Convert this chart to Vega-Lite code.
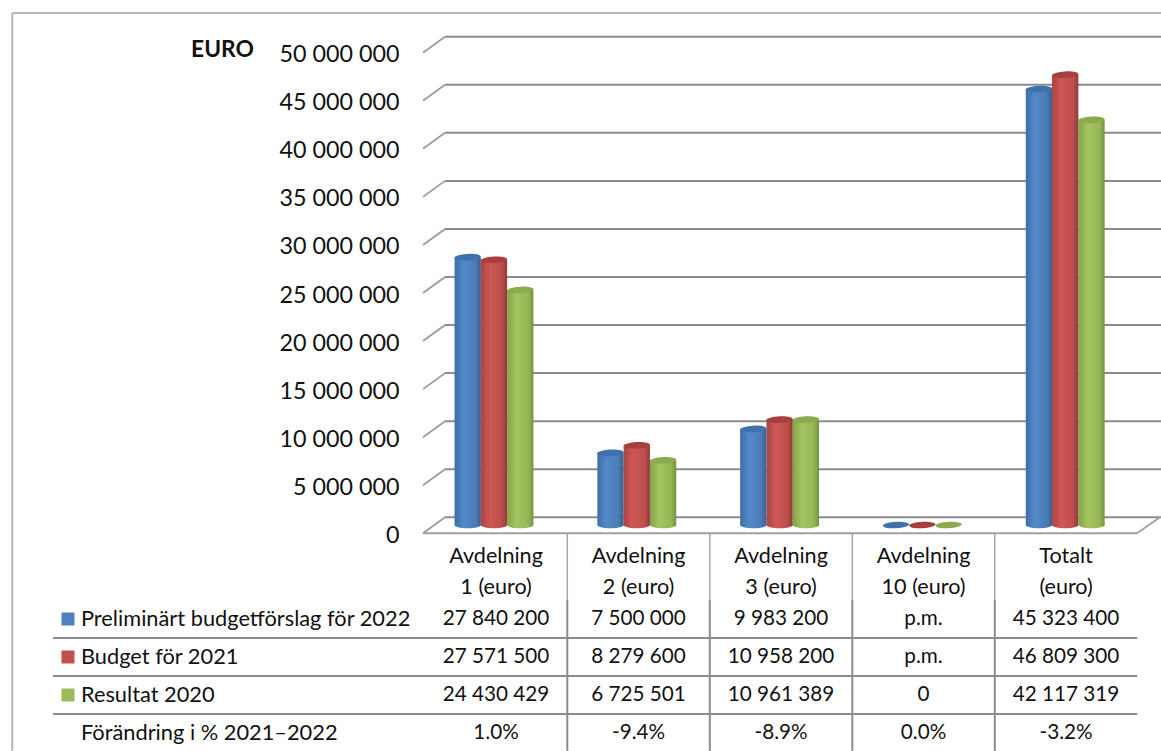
{
"$schema":"https://vega.github.io/schema/vega-lite/v6.json",
"width":1161,"height":751,"autosize":"none","padding":0,"background":"white",
"config":{"font":"Lato","view":{"stroke":null},"text":{"font":"Lato","color":"#111111"}},
"datasets":{
"grid":[{"tick":0},{"tick":5000000},{"tick":10000000},{"tick":15000000},{"tick":20000000},{"tick":25000000},{"tick":30000000},{"tick":35000000},{"tick":40000000},{"tick":45000000},{"tick":50000000}],
"bars":[
{"category":"Avdelning 1","series":"Preliminärt budgetförslag för 2022","value":27840200},
{"category":"Avdelning 1","series":"Budget för 2021","value":27571500},
{"category":"Avdelning 1","series":"Resultat 2020","value":24430429},
{"category":"Avdelning 2","series":"Preliminärt budgetförslag för 2022","value":7500000},
{"category":"Avdelning 2","series":"Budget för 2021","value":8279600},
{"category":"Avdelning 2","series":"Resultat 2020","value":6725501},
{"category":"Avdelning 3","series":"Preliminärt budgetförslag för 2022","value":9983200},
{"category":"Avdelning 3","series":"Budget för 2021","value":10958200},
{"category":"Avdelning 3","series":"Resultat 2020","value":10961389},
{"category":"Avdelning 10","series":"Preliminärt budgetförslag för 2022","value":0},
{"category":"Avdelning 10","series":"Budget för 2021","value":0},
{"category":"Avdelning 10","series":"Resultat 2020","value":0},
{"category":"Totalt","series":"Preliminärt budgetförslag för 2022","value":45323400},
{"category":"Totalt","series":"Budget för 2021","value":46809300},
{"category":"Totalt","series":"Resultat 2020","value":42117319}
],
"headers":[
{"column":0.5,"label":["Avdelning","1 (euro)"]},
{"column":1.5,"label":["Avdelning","2 (euro)"]},
{"column":2.5,"label":["Avdelning","3 (euro)"]},
{"column":3.5,"label":["Avdelning","10 (euro)"]},
{"column":4.5,"label":["Totalt","(euro)"]}
],
"rowLabels":[
{"row":1,"label":"Preliminärt budgetförslag för 2022","series":"Preliminärt budgetförslag för 2022"},
{"row":2,"label":"Budget för 2021","series":"Budget för 2021"},
{"row":3,"label":"Resultat 2020","series":"Resultat 2020"},
{"row":4,"label":"Förändring i % 2021–2022"}
],
"cells":[
{"row":1,"column":0.5,"label":"27 840 200"},{"row":1,"column":1.5,"label":"7 500 000"},{"row":1,"column":2.5,"label":"9 983 200"},{"row":1,"column":3.5,"label":"p.m."},{"row":1,"column":4.5,"label":"45 323 400"},
{"row":2,"column":0.5,"label":"27 571 500"},{"row":2,"column":1.5,"label":"8 279 600"},{"row":2,"column":2.5,"label":"10 958 200"},{"row":2,"column":3.5,"label":"p.m."},{"row":2,"column":4.5,"label":"46 809 300"},
{"row":3,"column":0.5,"label":"24 430 429"},{"row":3,"column":1.5,"label":"6 725 501"},{"row":3,"column":2.5,"label":"10 961 389"},{"row":3,"column":3.5,"label":"0"},{"row":3,"column":4.5,"label":"42 117 319"},
{"row":4,"column":0.5,"label":"1.0%"},{"row":4,"column":1.5,"label":"-9.4%"},{"row":4,"column":2.5,"label":"-8.9%"},{"row":4,"column":3.5,"label":"0.0%"},{"row":4,"column":4.5,"label":"-3.2%"}
],
"rowLines":[{"line":1.5},{"line":2.5},{"line":3.5}],
"colLines":[{"edge":1},{"edge":2},{"edge":3},{"edge":4}]
},
"layer":[
{"data":{"name":"grid"},
 "mark":{"type":"rule","stroke":"#8c8c8c","strokeWidth":2,"xOffset":22,"x2Offset":25,"yOffset":-16},
 "encoding":{
   "x":{"datum":0,"type":"quantitative","axis":null,"scale":{"domain":[0,5],"range":[423,1137]}},
   "x2":{"datum":5},
   "y":{"field":"tick","type":"quantitative","scale":{"domain":[0,50000000],"range":[533.3,52.7],"nice":false},
    "axis":{"orient":"left","offset":-399,"domain":false,"ticks":false,"grid":false,"labelPadding":0,"labelFontSize":23.3,"labelColor":"#111111","labelFont":"Lato","labelBaseline":"middle","labelOffset":2,"values":[0,5000000,10000000,15000000,20000000,25000000,30000000,35000000,40000000,45000000,50000000],"labelExpr":"replace(format(datum.value,','),/,/g,' ')","title":"EURO","titleAngle":0,"titleFont":"Lato","titleFontWeight":"bold","titleFontSize":22.8,"titleColor":"#111111","titleAlign":"center","titleBaseline":"middle","titleX":-177,"titleY":49,"labelOverlap":false}}
 }},
{"data":{"name":"grid"},
 "mark":{"type":"rule","stroke":"#9a9a9a","strokeWidth":1.8,"x2Offset":22,"y2Offset":-16},
 "encoding":{
   "x":{"datum":0,"type":"quantitative","axis":null,"scale":{"domain":[0,5],"range":[423,1137]}},
   "x2":{"datum":0},
   "y":{"field":"tick","type":"quantitative","axis":null,"scale":{"domain":[0,50000000],"range":[533.3,52.7],"nice":false}},
   "y2":{"field":"tick"}
 }},
{"data":{"name":"grid"},"transform":[{"filter":"datum.tick === 0"}],
 "mark":{"type":"rule","stroke":"#a0a0a0","strokeWidth":2},
 "encoding":{
   "x":{"datum":0,"type":"quantitative","axis":null,"scale":{"domain":[0,5],"range":[423,1137]}},
   "x2":{"datum":5},
   "y":{"field":"tick","type":"quantitative","axis":null,"scale":{"domain":[0,50000000],"range":[533.3,52.7],"nice":false}}
 }},
{"data":{"name":"grid"},"transform":[{"filter":"datum.tick === 0"}],
 "mark":{"type":"rule","stroke":"#a0a0a0","strokeWidth":1.8,"x2Offset":23,"y2Offset":-16},
 "encoding":{
   "x":{"datum":5,"type":"quantitative","axis":null,"scale":{"domain":[0,5],"range":[423,1137]}},
   "x2":{"datum":5},
   "y":{"field":"tick","type":"quantitative","axis":null,"scale":{"domain":[0,50000000],"range":[533.3,52.7],"nice":false}},
   "y2":{"field":"tick"}
 }},
{"data":{"name":"bars"},
 "encoding":{
  "x":{"field":"category","type":"nominal","axis":null,"sort":null,"scale":{"type":"band","domain":["Avdelning 1","Avdelning 2","Avdelning 3","Avdelning 10","Totalt"],"range":[422.6,1136.6],"paddingInner":0.4475,"paddingOuter":0.2237}},
  "xOffset":{"field":"series","type":"nominal","sort":null,"scale":{"domain":["Preliminärt budgetförslag för 2022","Budget för 2021","Resultat 2020"],"paddingInner":0,"paddingOuter":0}},
  "y":{"field":"value","type":"quantitative","axis":null,"scale":{"domain":[0,50000000],"range":[525,44],"nice":false}}
 },
 "layer":[
 {"transform":[{"filter":"datum.series === 'Preliminärt budgetförslag för 2022' && datum.value > 0"}],
  "mark":{"type":"bar","color":{"gradient":"linear","x1":0,"x2":1,"y1":0,"y2":0,"stops":[{"offset":0,"color":"#3f6ea8"},{"offset":0.35,"color":"#5389c9"},{"offset":0.8,"color":"#4a7bb5"},{"offset":1,"color":"#365f91"}]}}},
 {"transform":[{"filter":"datum.series === 'Budget för 2021' && datum.value > 0"}],
  "mark":{"type":"bar","color":{"gradient":"linear","x1":0,"x2":1,"y1":0,"y2":0,"stops":[{"offset":0,"color":"#a84441"},{"offset":0.35,"color":"#cf5855"},{"offset":0.8,"color":"#bc4f4c"},{"offset":1,"color":"#8f3a38"}]}}},
 {"transform":[{"filter":"datum.series === 'Resultat 2020' && datum.value > 0"}],
  "mark":{"type":"bar","color":{"gradient":"linear","x1":0,"x2":1,"y1":0,"y2":0,"stops":[{"offset":0,"color":"#85a24a"},{"offset":0.35,"color":"#a4c560"},{"offset":0.8,"color":"#97b756"},{"offset":1,"color":"#76923c"}]}}},
 {"transform":[{"filter":"datum.series === 'Preliminärt budgetförslag för 2022' && datum.value > 0"}],
  "mark":{"type":"point","filled":true,"opacity":1,"size":692,"shape":"M-1,0 A1,0.25 0 1 0 1,0 A1,0.25 0 1 0 -1,0 Z","color":{"gradient":"linear","x1":0,"x2":1,"y1":0,"y2":0,"stops":[{"offset":0,"color":"#3f6ea8"},{"offset":0.35,"color":"#5389c9"},{"offset":0.8,"color":"#4a7bb5"},{"offset":1,"color":"#365f91"}]}},
  "encoding":{"y":{"datum":0,"type":"quantitative","axis":null,"scale":{"domain":[0,50000000],"range":[525,44],"nice":false}}}},
 {"transform":[{"filter":"datum.series === 'Budget för 2021' && datum.value > 0"}],
  "mark":{"type":"point","filled":true,"opacity":1,"size":692,"shape":"M-1,0 A1,0.25 0 1 0 1,0 A1,0.25 0 1 0 -1,0 Z","color":{"gradient":"linear","x1":0,"x2":1,"y1":0,"y2":0,"stops":[{"offset":0,"color":"#a84441"},{"offset":0.35,"color":"#cf5855"},{"offset":0.8,"color":"#bc4f4c"},{"offset":1,"color":"#8f3a38"}]}},
  "encoding":{"y":{"datum":0,"type":"quantitative","axis":null,"scale":{"domain":[0,50000000],"range":[525,44],"nice":false}}}},
 {"transform":[{"filter":"datum.series === 'Resultat 2020' && datum.value > 0"}],
  "mark":{"type":"point","filled":true,"opacity":1,"size":692,"shape":"M-1,0 A1,0.25 0 1 0 1,0 A1,0.25 0 1 0 -1,0 Z","color":{"gradient":"linear","x1":0,"x2":1,"y1":0,"y2":0,"stops":[{"offset":0,"color":"#85a24a"},{"offset":0.35,"color":"#a4c560"},{"offset":0.8,"color":"#97b756"},{"offset":1,"color":"#76923c"}]}},
  "encoding":{"y":{"datum":0,"type":"quantitative","axis":null,"scale":{"domain":[0,50000000],"range":[525,44],"nice":false}}}},
 {"mark":{"type":"point","filled":true,"opacity":1,"size":692,"shape":"M-1,0.05 A1,0.25 -3 1 1 1,-0.05 A1,0.25 -3 1 1 -1,0.05 Z"},
  "encoding":{
   "color":{"field":"series","type":"nominal","legend":null,"scale":{"domain":["Preliminärt budgetförslag för 2022","Budget för 2021","Resultat 2020"],"range":["#3f71ab","#a83f3d","#8caa4e"]}}
  }}
 ]},
{"data":{"values":[{"edge":-2.895}]},
 "mark":{"type":"rule","stroke":"#b5b5b5","strokeWidth":2},
 "encoding":{"x":{"field":"edge","type":"quantitative","axis":null,"scale":{"domain":[0,5],"range":[424.8,1137.3]}},
  "y":{"datum":-14.95,"type":"quantitative","axis":null,"scale":{"domain":[1,4],"range":[619,733],"nice":false,"zero":false}},"y2":{"datum":4.47}}},
{"data":{"values":[{"top":-14.95}]},
 "mark":{"type":"rule","stroke":"#b5b5b5","strokeWidth":2},
 "encoding":{"y":{"field":"top","type":"quantitative","axis":null,"scale":{"domain":[1,4],"range":[619,733],"nice":false,"zero":false}},
  "x":{"datum":-2.895,"type":"quantitative","axis":null,"scale":{"domain":[0,5],"range":[424.8,1137.3]}},"x2":{"datum":5.167}}},
{"data":{"name":"colLines"},
 "mark":{"type":"rule","stroke":"#a6a6a6","strokeWidth":1.5},
 "encoding":{"x":{"field":"edge","type":"quantitative","axis":null,"scale":{"domain":[0,5],"range":[424.8,1137.3]}},
  "y":{"datum":-1.24,"type":"quantitative","axis":null,"scale":{"domain":[1,4],"range":[619,733],"nice":false,"zero":false}},"y2":{"datum":0.5}}},
{"data":{"name":"colLines"},
 "mark":{"type":"rule","stroke":"#8c8c8c","strokeWidth":2},
 "encoding":{"x":{"field":"edge","type":"quantitative","axis":null,"scale":{"domain":[0,5],"range":[424.8,1137.3]}},
  "y":{"datum":0.5,"type":"quantitative","axis":null,"scale":{"domain":[1,4],"range":[619,733],"nice":false,"zero":false}},"y2":{"datum":4.47}}},
{"data":{"name":"rowLines"},
 "mark":{"type":"rule","stroke":"#8c8c8c","strokeWidth":2},
 "encoding":{"y":{"field":"line","type":"quantitative","axis":null,"scale":{"domain":[1,4],"range":[619,733],"nice":false,"zero":false}},
  "x":{"datum":-2.609,"type":"quantitative","axis":null,"scale":{"domain":[0,5],"range":[424.8,1137.3]}},"x2":{"datum":5}}},
{"data":{"name":"headers"},
 "mark":{"type":"text","fontSize":21.6,"align":"center","baseline":"middle","lineHeight":31,"dy":-24},
 "encoding":{"x":{"field":"column","type":"quantitative","axis":null,"scale":{"domain":[0,5],"range":[424.8,1137.3]}},
  "y":{"datum":0,"type":"quantitative","axis":null,"scale":{"domain":[1,4],"range":[619,733],"nice":false,"zero":false}},"text":{"field":"label"}}},
{"data":{"name":"cells"},
 "mark":{"type":"text","fontSize":20.7,"align":"center","baseline":"middle"},
 "encoding":{"x":{"field":"column","type":"quantitative","axis":null,"scale":{"domain":[0,5],"range":[424.8,1137.3]}},
  "y":{"field":"row","type":"quantitative","axis":null,"scale":{"domain":[1,4],"range":[619,733],"nice":false,"zero":false}},"text":{"field":"label"}}},
{"data":{"name":"rowLabels"},
 "mark":{"type":"text","fontSize":21.8,"align":"left","baseline":"middle"},
 "encoding":{"x":{"datum":-2.413,"type":"quantitative","axis":null,"scale":{"domain":[0,5],"range":[424.8,1137.3]}},
  "y":{"field":"row","type":"quantitative","axis":null,"scale":{"domain":[1,4],"range":[619,733],"nice":false,"zero":false}},"text":{"field":"label"}}},
{"data":{"name":"rowLabels"},
 "transform":[{"filter":"isValid(datum.series)"}],
 "mark":{"type":"point","filled":true,"opacity":1,"shape":"square","size":169},
 "encoding":{"x":{"datum":-2.504,"type":"quantitative","axis":null,"scale":{"domain":[0,5],"range":[424.8,1137.3]}},
  "y":{"field":"row","type":"quantitative","axis":null,"scale":{"domain":[1,4],"range":[619,733],"nice":false,"zero":false}},
  "color":{"field":"series","type":"nominal","legend":null,"scale":{"domain":["Preliminärt budgetförslag för 2022","Budget för 2021","Resultat 2020"],"range":["#4f81bd","#c0504d","#9bbb59"]}}}}
],
"resolve":{"scale":{"x":"independent","y":"independent","xOffset":"independent","color":"independent"},"axis":{"x":"independent","y":"independent"}}
}
